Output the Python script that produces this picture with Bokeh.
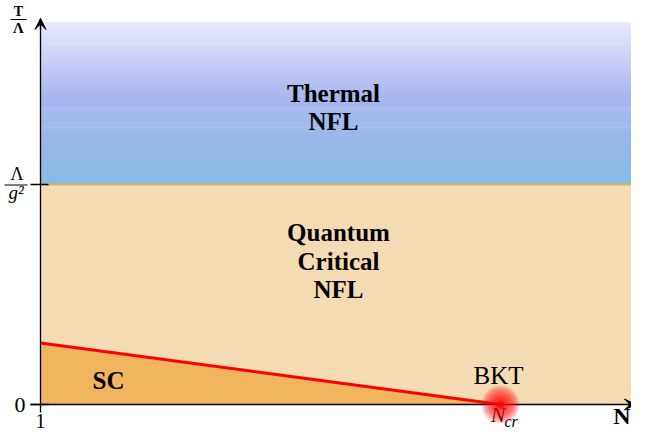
import numpy as np
from bokeh.plotting import figure
from bokeh.models import Range1d, LinearAxis, FixedTicker, Arrow, VeeHead
from bokeh.core.properties import value
from bokeh.embed import file_html
from bokeh.resources import INLINE

# ---------------- data ----------------
N_start = 1.0          # left end of the N axis ("1")
N_cr = 8.0             # BKT point
N_end = 10.0           # right end of coloured regions
N_axis_end = 10.054    # arrow tip of the N axis
T_zero = 0.0
T_cross = 1.0          # Lambda / g^2
T_top = 1.736          # top of coloured regions
T_axis_end = 1.7545    # arrow tip of the T axis
sc_N = [1.0, 4.5, 8.0]     # superconducting dome boundary
sc_T = [0.28, 0.14, 0.0]
y_ticks = [0, 1]
y_tick_labels = {0: "0", 1: " "}
x_ticks = [1]
x_tick_labels = {1: "1"}
thermal_lines = ["Thermal", "NFL"]
qc_lines = ["Quantum", "Critical", "NFL"]

# ---------------- layout helpers (reference pixel -> data) ----------------
W, H = 631, 431
OX, OY = 2, 4                        # reference-pixel offset of the figure
sx = (502 - 42) / (N_cr - N_start)   # px per N unit
sy = 220.0                           # px per T unit


def RX(rx):
    return N_start + (rx - 42) / sx


def RY(ry):
    return (408 - ry) / sy


x_range = Range1d(RX(OX), RX(OX + W))
y_range = Range1d(RY(OY + H), RY(OY))

p = figure(width=W, height=H, x_range=x_range, y_range=y_range,
           x_axis_type=None, y_axis_type=None, toolbar_location=None,
           output_backend="svg", min_border=0, min_border_left=0,
           min_border_right=0, min_border_top=0, min_border_bottom=0)
p.outline_line_color = None
p.background_fill_color = "white"
p.border_fill_color = "white"

# ---------------- thermal NFL gradient ----------------
stops = [(T_cross, (0x84, 0xBA, 0xE3)), (1.40, (0xAB, 0xB6, 0xF0)), (T_top, (0xE8, 0xE8, 0xFB))]
nstrip = 80
edges = np.linspace(T_cross, T_top, nstrip + 1)
sy_pos = [s[0] for s in stops]
cols = []
for i in range(nstrip):
    m = 0.5 * (edges[i] + edges[i + 1])
    rgb = [int(round(np.interp(m, sy_pos, [s[1][k] for s in stops]))) for k in range(3)]
    cols.append("#%02x%02x%02x" % tuple(rgb))
p.quad(left=N_start, right=N_end, bottom=edges[:-1], top=edges[1:] + 0.002,
       fill_color=cols, line_color=None)

# ---------------- quantum critical region ----------------
p.quad(left=N_start, right=N_end, bottom=T_zero, top=T_cross,
       fill_color="#F3DCB3", line_color=None)

# ---------------- SC dome ----------------
p.varea(x=sc_N, y1=[T_zero] * len(sc_N), y2=sc_T, fill_color="#F2B55F")

# boundary between thermal and quantum critical
p.segment(x0=N_start, y0=T_cross, x1=RX(636), y1=T_cross,
          line_color="#D5B26C", line_width=2)

# SC boundary
p.line(sc_N, sc_T, line_color="#FF0000", line_width=3)

# BKT glow
for s in np.arange(38, 4, -3):
    p.scatter([N_cr], [T_zero], size=s, fill_color="#FF1010", fill_alpha=0.15,
              line_color=None, level="overlay")
p.scatter([N_cr], [T_zero], size=8, fill_color="#FF0000", fill_alpha=0.6,
          line_color=None, level="overlay")

# ---------------- axes ----------------
yaxis = LinearAxis(fixed_location=N_start, bounds=(T_zero, T_axis_end),
                   ticker=FixedTicker(ticks=y_ticks))
yaxis.major_label_overrides = y_tick_labels
yaxis.major_tick_in = 8
yaxis.major_tick_out = 10
yaxis.minor_tick_in = 0
yaxis.minor_tick_out = 0
yaxis.axis_line_width = 1.3
yaxis.major_tick_line_width = 1.3
yaxis.major_label_standoff = 5
yaxis.major_label_text_font = "Liberation Serif"
yaxis.major_label_text_font_size = "22px"
yaxis.major_label_text_color = "black"
p.add_layout(yaxis, "left")

xaxis = LinearAxis(fixed_location=T_zero, bounds=(N_start, N_axis_end),
                   ticker=FixedTicker(ticks=x_ticks))
xaxis.major_label_overrides = x_tick_labels
xaxis.major_tick_in = 0
xaxis.major_tick_out = 8
xaxis.minor_tick_in = 0
xaxis.minor_tick_out = 0
xaxis.axis_line_width = 1.3
xaxis.major_tick_line_width = 1.3
xaxis.major_label_standoff = 1
xaxis.major_label_text_font = "Liberation Serif"
xaxis.major_label_text_font_size = "20px"
xaxis.major_label_text_color = "black"
p.add_layout(xaxis, "below")

# extend x axis leftwards like the crossing tick
p.segment(x0=RX(32), y0=T_zero, x1=N_start, y1=T_zero, line_color="black", line_width=1.3)

# arrow heads
p.add_layout(Arrow(end=VeeHead(size=11, fill_color="black", line_color="black", line_width=1),
                   x_start=N_axis_end - 0.1, y_start=T_zero, x_end=N_axis_end, y_end=T_zero,
                   line_width=1.3))
p.add_layout(Arrow(end=VeeHead(size=11, fill_color="black", line_color="black", line_width=1),
                   x_start=N_start, y_start=T_axis_end - 0.05, x_end=N_start, y_end=T_axis_end,
                   line_width=1.3))

serif = value("Liberation Serif")


def txt(xs, base_ys, texts, fs, style="normal", align="center"):
    # base_ys: wanted baseline in reference pixels; renderer puts the glyphs ~0.4em lower
    p.text(x=[RX(v) for v in xs], y=[RY(v - 0.4 * fs) for v in base_ys], text=texts,
           text_font=serif, text_font_style=style, text_font_size="%dpx" % fs,
           text_align=align, text_baseline="alphabetic", text_color="black")


# region labels
txt([335, 335], [107, 135], thermal_lines, 25, "bold")
txt([340, 340, 340], [246, 274.5, 303], qc_lines, 25, "bold")
txt([110], [394], ["SC"], 25, "bold")
txt([500], [389], ["BKT"], 25)

# y axis label T / Lambda
txt([20], [20.5], ["T"], 14, "bold")
p.segment(x0=RX(12), y0=RY(23), x1=RX(28), y1=RY(23), line_color="black", line_width=1.2)
txt([20], [37], ["Λ"], 15, "bold")

# tick label Lambda / g^2
txt([18.5], [185], ["Λ"], 18)
p.segment(x0=RX(6), y0=RY(188.5), x1=RX(29), y1=RY(188.5), line_color="black", line_width=1.1)
txt([17.5], [204], ["g²"], 19, "italic")

# x tick label N_cr and axis label N (kept inside the figure)
txt([507], [OY + 423], ["N"], 22, "italic", "right")
txt([506], [OY + 427], ["cr"], 16, "italic", "left")
txt([OX + 630], [OY + 425], ["N"], 24, "bold", "right")

open("out.html", "w").write(file_html(p, INLINE))
